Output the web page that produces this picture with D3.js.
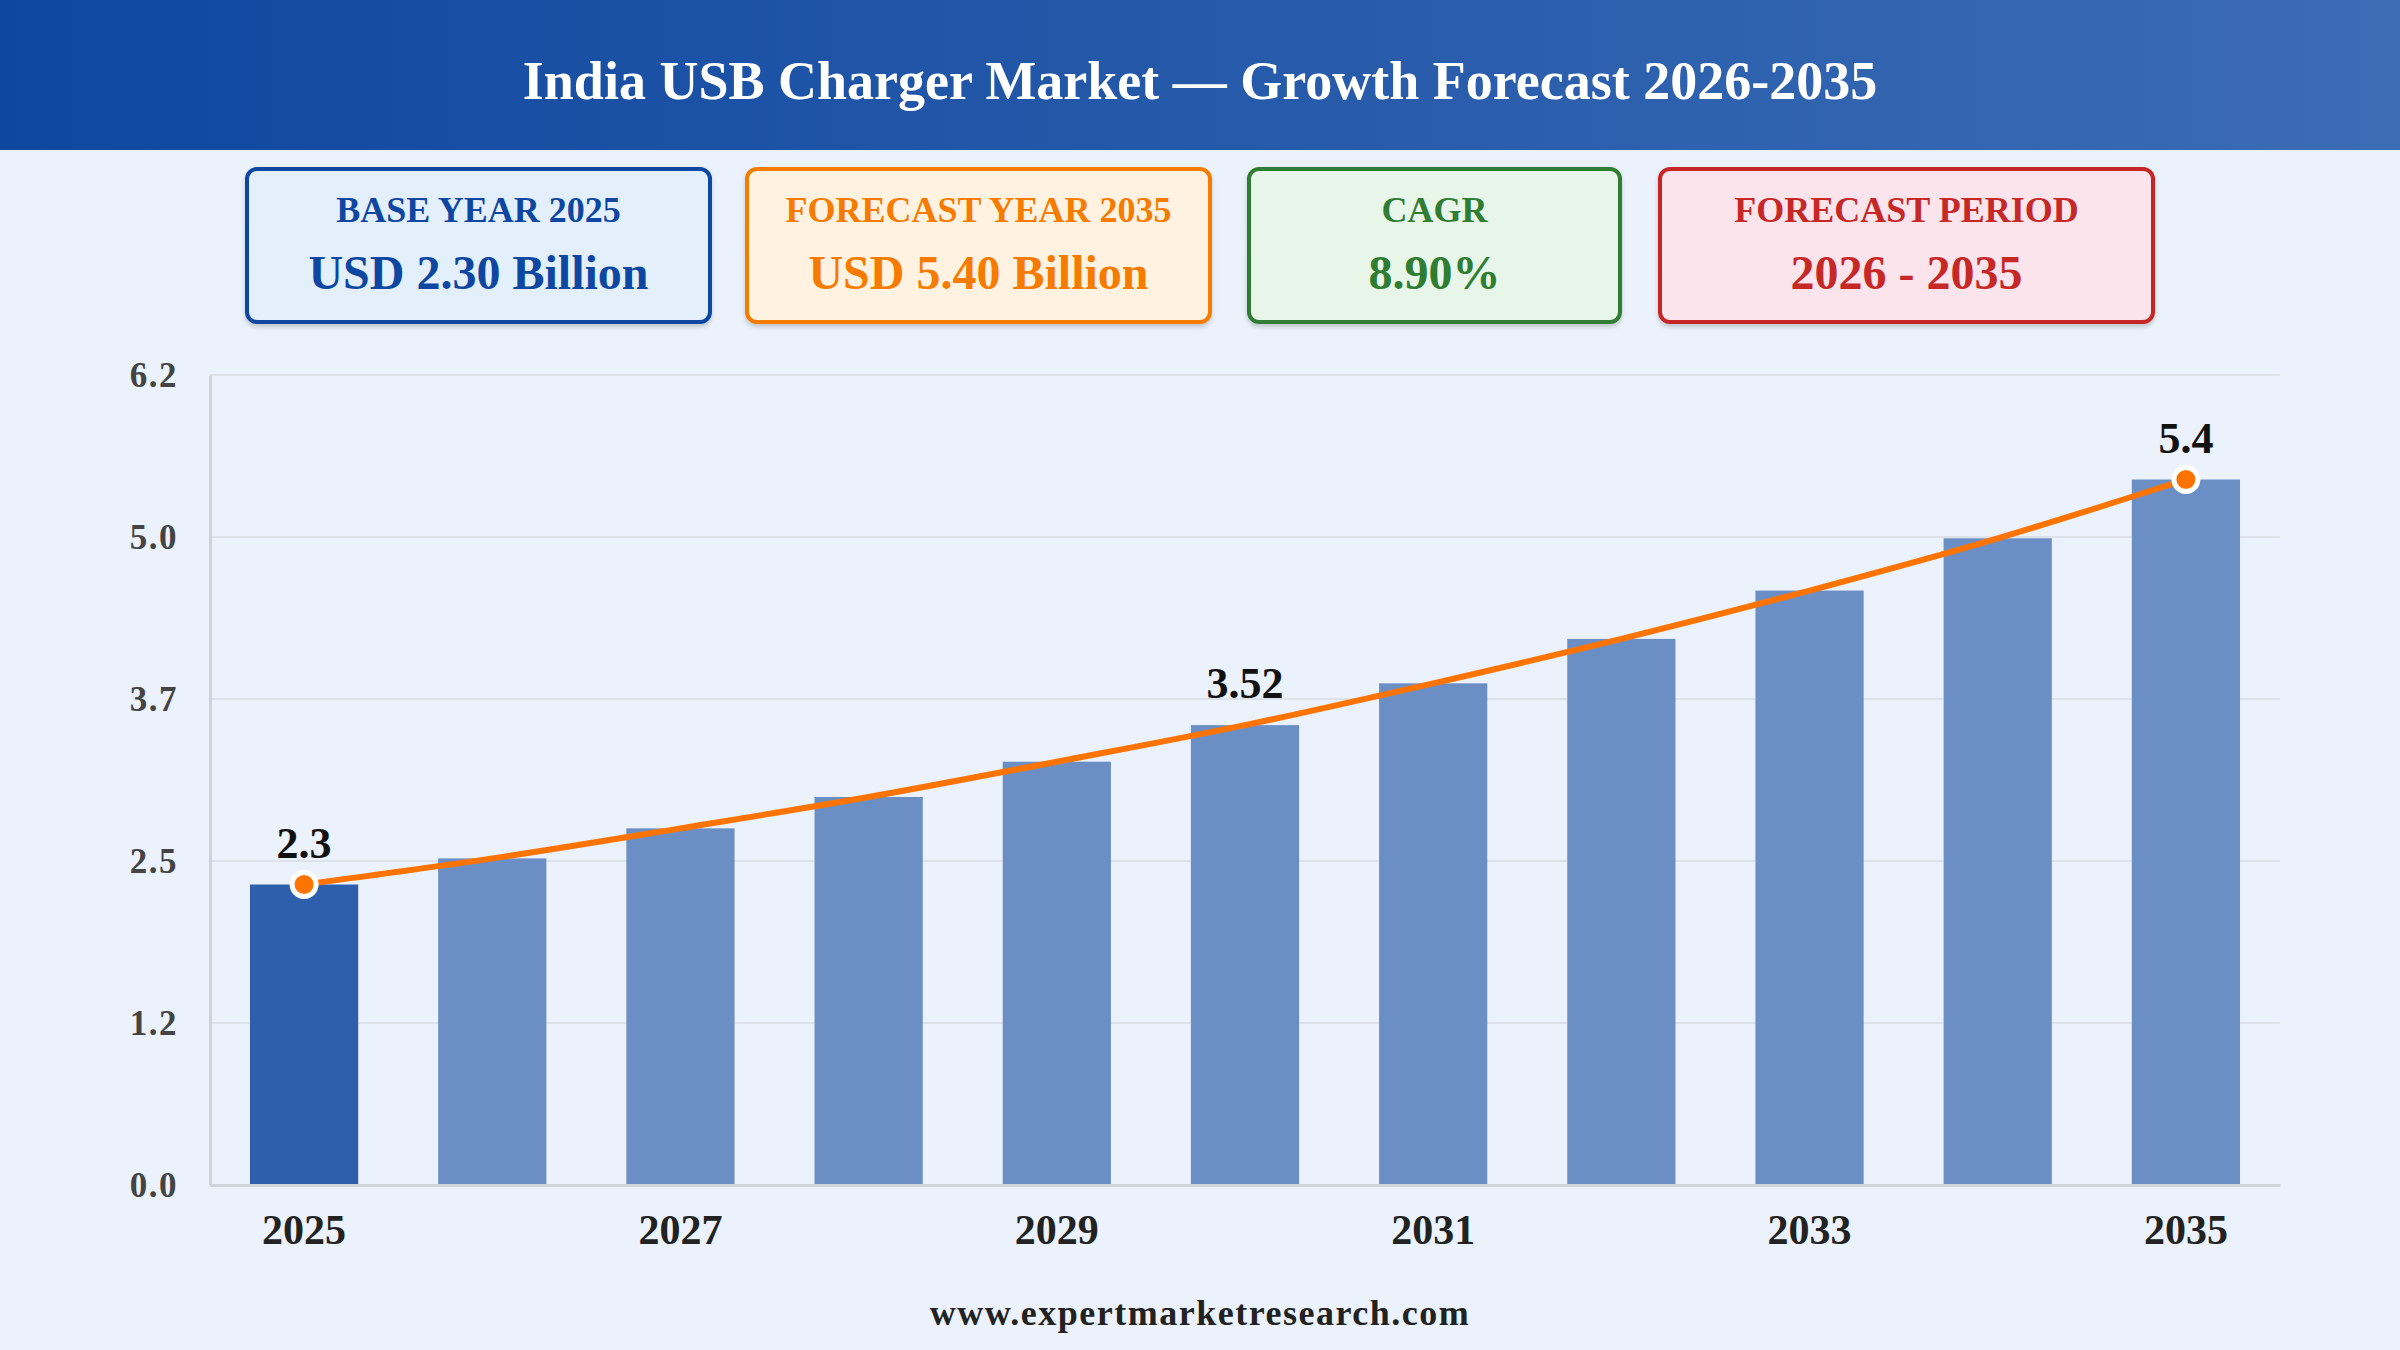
<!DOCTYPE html>
<html>
<head>
<meta charset="utf-8">
<script src="https://cdn.jsdelivr.net/npm/d3@7"></script>
<style>
  html, body { margin: 0; padding: 0; background: #ebf2fb; }
  svg { display: block; font-family: "Liberation Serif", "Times New Roman", serif; }
</style>
</head>
<body>
<svg id="chart" width="2400" height="1350"></svg>
<script>
// chart data
const years = [2025, 2026, 2027, 2028, 2029, 2030, 2031, 2032, 2033, 2034, 2035];
const values = [2.3, 2.5, 2.73, 2.97, 3.24, 3.52, 3.84, 4.18, 4.55, 4.95, 5.4];
const labelledYears = [2025, 2030, 2035];   // points that get a value label
const dotYears = [2025, 2035];              // points that get a marker
const yTicks = [0, 1.24, 2.48, 3.72, 4.96, 6.2];
const xTickYears = [2025, 2027, 2029, 2031, 2033, 2035];

// summary cards
const cardTitles = ["BASE YEAR 2025", "FORECAST YEAR 2035", "CAGR", "FORECAST PERIOD"];
const cardValues = ["USD 2.30 Billion", "USD 5.40 Billion", "8.90%", "2026 - 2035"];

const title = "India USB Charger Market \u2014 Growth Forecast 2026-2035";
const source = "www.expertmarketresearch.com";

const W = 2400, H = 1350;
const svg = d3.select("#chart");
const defs = svg.append("defs");

// header band
const grad = defs.append("linearGradient").attr("id", "hdr").attr("x1", 0).attr("x2", 1);
grad.append("stop").attr("offset", "0%").attr("stop-color", "#0f479f");
grad.append("stop").attr("offset", "100%").attr("stop-color", "#3b6cb4");
svg.append("rect").attr("width", W).attr("height", 150).attr("fill", "url(#hdr)");
svg.append("text")
  .attr("x", W / 2).attr("y", 99)
  .attr("text-anchor", "middle")
  .attr("fill", "#fff")
  .attr("font-weight", "bold")
  .attr("font-size", 54)
  .text(title);

// cards
const cardStyle = [
  { x: 245, w: 467, fill: "#e3f0fc", stroke: "#0d47a1", text: "#0d47a1" },
  { x: 745, w: 467, fill: "#fff2e0", stroke: "#f57c00", text: "#f57c00" },
  { x: 1247, w: 375, fill: "#e8f5e9", stroke: "#2e7d32", text: "#2e7d32" },
  { x: 1658, w: 497, fill: "#fce4ec", stroke: "#c62828", text: "#c62828" }
];
const shadow = defs.append("filter").attr("id", "sh").attr("x", "-5%").attr("y", "-5%").attr("width", "110%").attr("height", "120%");
shadow.append("feDropShadow").attr("dx", 0).attr("dy", 3).attr("stdDeviation", 2).attr("flood-color", "#000").attr("flood-opacity", 0.18);

const cards = svg.selectAll("g.card")
  .data(cardTitles.map((t, i) => ({ t, v: cardValues[i], s: cardStyle[i] })))
  .enter().append("g")
  .attr("class", "card")
  .attr("transform", d => `translate(${d.s.x},167)`);

cards.append("rect")
  .attr("x", 2).attr("y", 2)
  .attr("width", d => d.s.w - 4).attr("height", 153)
  .attr("rx", 10)
  .attr("fill", d => d.s.fill)
  .attr("stroke", d => d.s.stroke)
  .attr("stroke-width", 4)
  .attr("filter", "url(#sh)");

cards.append("text")
  .attr("x", d => d.s.w / 2).attr("y", 55)
  .attr("text-anchor", "middle")
  .attr("font-weight", "bold")
  .attr("font-size", 36)
  .attr("fill", d => d.s.text)
  .text(d => d.t);

cards.append("text")
  .attr("x", d => d.s.w / 2).attr("y", 122)
  .attr("text-anchor", "middle")
  .attr("font-weight", "bold")
  .attr("font-size", 48)
  .attr("fill", d => d.s.text)
  .text(d => d.v);

// plot area
const plotLeft = 210, plotRight = 2280, plotTop = 375, plotBottom = 1185;

const x = d3.scaleBand()
  .domain(years)
  .range([plotLeft, plotRight])
  .paddingInner(0.425)
  .paddingOuter(0.2125);

const y = d3.scaleLinear().domain([0, 6.2]).range([plotBottom, plotTop]);

// grid
svg.append("g")
  .selectAll("line")
  .data(yTicks.slice(1))
  .enter().append("line")
  .attr("x1", plotLeft).attr("x2", plotRight)
  .attr("y1", d => y(d)).attr("y2", d => y(d))
  .attr("stroke", "#dde2e8")
  .attr("stroke-width", 2);

// y axis
const yAxis = svg.append("g")
  .attr("transform", `translate(${plotLeft},0)`)
  .call(d3.axisLeft(y).tickValues(yTicks).tickFormat(d3.format(".1f")).tickSize(0).tickPadding(32));
yAxis.select(".domain").attr("stroke", "#cfd4da").attr("stroke-width", 3);
yAxis.selectAll("text")
  .attr("font-family", "Liberation Serif, serif")
  .attr("font-size", 35)
  .attr("font-weight", "bold")
  .attr("fill", "#444")
  .attr("letter-spacing", 1.5);

// bars
svg.append("g")
  .selectAll("rect")
  .data(years.map((yr, i) => ({ yr, v: values[i] })))
  .enter().append("rect")
  .attr("x", d => x(d.yr))
  .attr("width", x.bandwidth())
  .attr("y", d => y(d.v))
  .attr("height", d => y(0) - y(d.v))
  .attr("fill", d => d.yr === 2025 ? "#2e5fad" : "#6b8fc4");

// x axis
const xAxis = svg.append("g")
  .attr("transform", `translate(0,${plotBottom})`)
  .call(d3.axisBottom(x).tickValues(xTickYears).tickSize(0).tickPadding(29));
xAxis.select(".domain").attr("stroke", "#cfd4da").attr("stroke-width", 3);
xAxis.selectAll("text")
  .attr("font-family", "Liberation Serif, serif")
  .attr("font-size", 42)
  .attr("font-weight", "bold")
  .attr("fill", "#222");

// trend line
const pts = years.map((yr, i) => ({ yr, v: values[i] }));
const cx = d => x(d.yr) + x.bandwidth() / 2;
const line = d3.line().x(cx).y(d => y(d.v)).curve(d3.curveMonotoneX);
svg.append("path")
  .datum(pts)
  .attr("d", line)
  .attr("fill", "none")
  .attr("stroke", "#ff7400")
  .attr("stroke-width", 6)
  .attr("stroke-linecap", "round");

svg.append("g")
  .selectAll("circle")
  .data(pts.filter(d => dotYears.includes(d.yr)))
  .enter().append("circle")
  .attr("cx", cx)
  .attr("cy", d => y(d.v))
  .attr("r", 12)
  .attr("fill", "#ff7400")
  .attr("stroke", "#fff")
  .attr("stroke-width", 5);

svg.append("g")
  .selectAll("text")
  .data(pts.filter(d => labelledYears.includes(d.yr)))
  .enter().append("text")
  .attr("x", cx)
  .attr("y", d => y(d.v) - 27)
  .attr("text-anchor", "middle")
  .attr("font-weight", "bold")
  .attr("font-size", 44)
  .attr("fill", "#111")
  .text(d => d.v);

// source
svg.append("text")
  .attr("x", W / 2).attr("y", 1325)
  .attr("text-anchor", "middle")
  .attr("font-weight", "bold")
  .attr("font-size", 36)
  .attr("letter-spacing", 1.5)
  .attr("fill", "#222")
  .text(source);
</script>
</body>
</html>
